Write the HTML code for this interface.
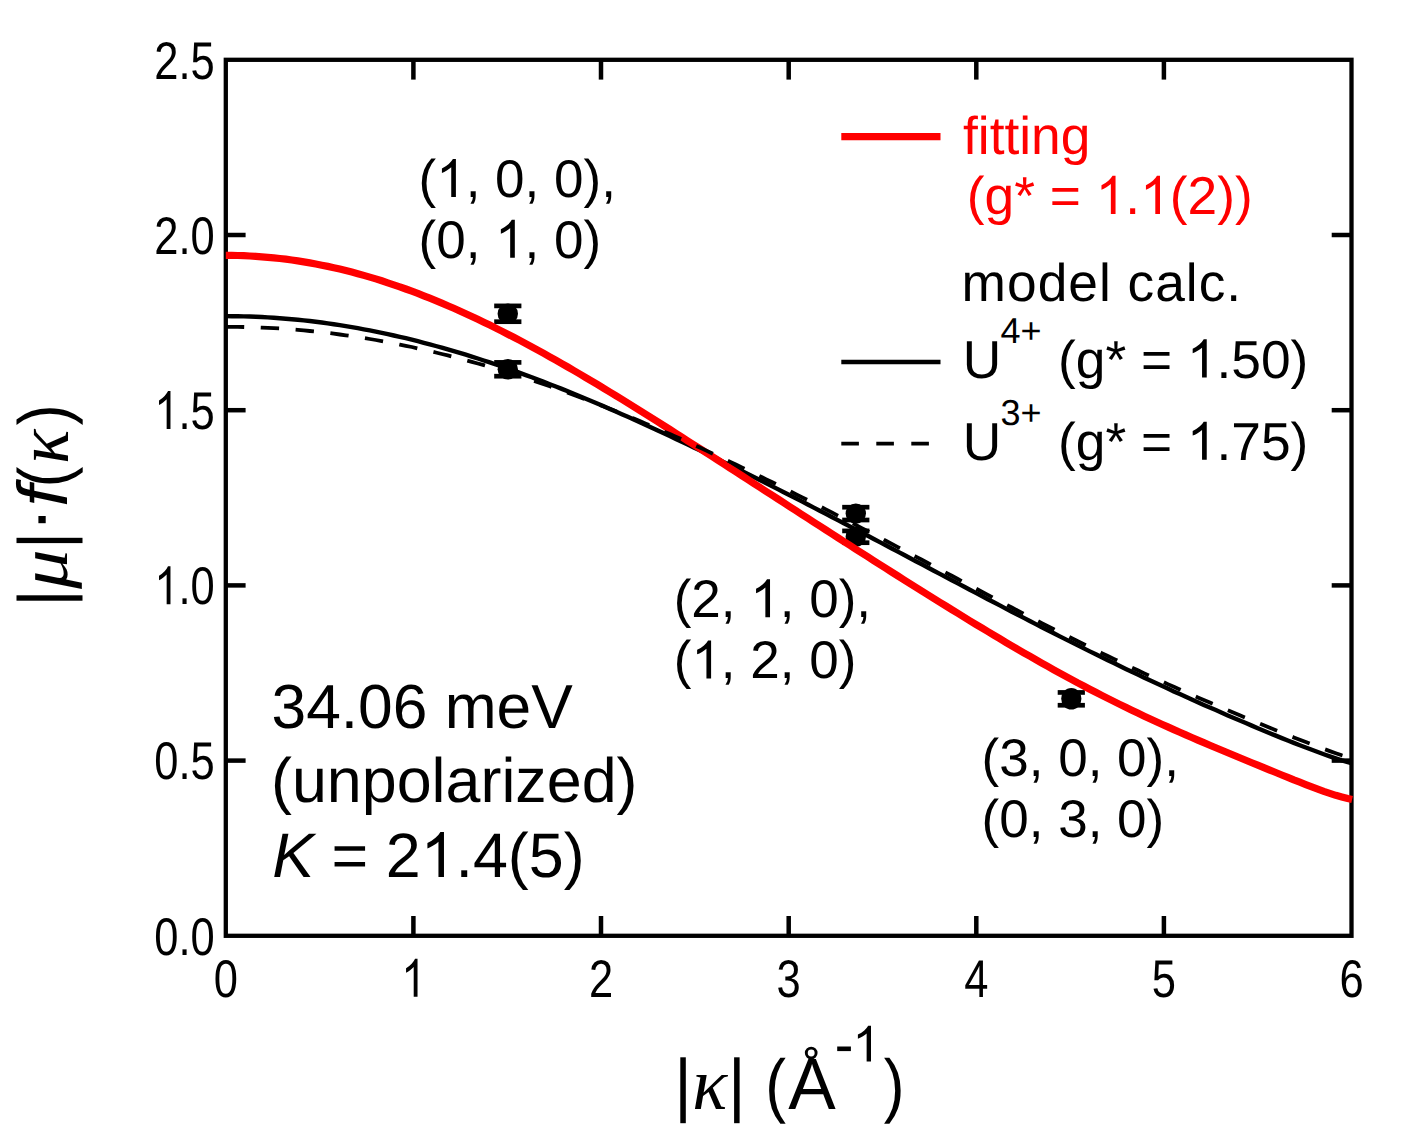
<!DOCTYPE html>
<html><head><meta charset="utf-8"><title>chart</title>
<style>html,body{margin:0;padding:0;background:#fff;}svg{display:block;}text{font-family:"Liberation Sans",sans-serif;text-rendering:geometricPrecision;}.s{font-family:"Liberation Serif",serif;font-style:italic;}.i{font-style:italic;}</style></head><body>
<svg width="1412" height="1130" viewBox="0 0 1412 1130">
<rect x="0" y="0" width="1412" height="1130" fill="#fff"/>
<rect x="225.8" y="59.8" width="1125.7" height="876.0" fill="none" stroke="#000" stroke-width="4.3"/>
<g stroke="#000" stroke-width="4.5">
<line x1="413.4" y1="935.8" x2="413.4" y2="916.0"/>
<line x1="413.4" y1="59.8" x2="413.4" y2="79.6"/>
<line x1="601.0" y1="935.8" x2="601.0" y2="916.0"/>
<line x1="601.0" y1="59.8" x2="601.0" y2="79.6"/>
<line x1="788.7" y1="935.8" x2="788.7" y2="916.0"/>
<line x1="788.7" y1="59.8" x2="788.7" y2="79.6"/>
<line x1="976.3" y1="935.8" x2="976.3" y2="916.0"/>
<line x1="976.3" y1="59.8" x2="976.3" y2="79.6"/>
<line x1="1163.9" y1="935.8" x2="1163.9" y2="916.0"/>
<line x1="1163.9" y1="59.8" x2="1163.9" y2="79.6"/>
<line x1="225.8" y1="760.6" x2="245.6" y2="760.6"/>
<line x1="1351.5" y1="760.6" x2="1331.7" y2="760.6"/>
<line x1="225.8" y1="585.4" x2="245.6" y2="585.4"/>
<line x1="1351.5" y1="585.4" x2="1331.7" y2="585.4"/>
<line x1="225.8" y1="410.2" x2="245.6" y2="410.2"/>
<line x1="1351.5" y1="410.2" x2="1331.7" y2="410.2"/>
<line x1="225.8" y1="235.0" x2="245.6" y2="235.0"/>
<line x1="1351.5" y1="235.0" x2="1331.7" y2="235.0"/>
</g>
<g fill="#000" stroke="none">
<ellipse cx="507.8" cy="313.80" rx="10.20" ry="10.20"/>
<rect x="494.2" y="303.55" width="27.2" height="4.7"/>
<rect x="494.2" y="319.35" width="27.2" height="4.7"/>
<ellipse cx="507.8" cy="369.30" rx="10.20" ry="10.20"/>
<rect x="494.2" y="360.05" width="27.2" height="4.7"/>
<rect x="494.2" y="373.85" width="27.2" height="4.7"/>
<ellipse cx="855.8" cy="513.60" rx="10.20" ry="10.20"/>
<rect x="842.2" y="504.85" width="27.2" height="4.7"/>
<rect x="842.2" y="517.65" width="27.2" height="4.7"/>
<ellipse cx="855.8" cy="536.80" rx="10.20" ry="10.20"/>
<rect x="842.2" y="528.55" width="27.2" height="4.7"/>
<rect x="842.2" y="540.35" width="27.2" height="4.7"/>
<ellipse cx="1071.3" cy="698.85" rx="10.10" ry="10.75"/>
<rect x="1057.7" y="690.10" width="27.2" height="4.7"/>
<rect x="1057.7" y="702.90" width="27.2" height="4.7"/>
</g>
<g fill="none" stroke-linejoin="round">
<path d="M225.8 316.1L231.8 316.2L237.8 316.2L243.8 316.4L249.8 316.5L255.8 316.8L261.8 317.0L267.8 317.4L273.8 317.8L279.8 318.2L285.8 318.7L291.8 319.2L297.8 319.7L303.8 320.4L309.8 321.0L315.8 321.8L321.8 322.5L327.8 323.4L333.8 324.2L339.8 325.1L345.8 326.1L351.8 327.1L357.8 328.2L363.8 329.3L369.8 330.4L375.8 331.6L381.8 332.8L387.8 334.1L393.8 335.5L399.8 336.8L405.8 338.2L411.8 339.7L417.8 341.2L423.8 342.8L429.8 344.3L435.8 346.0L441.8 347.6L447.8 349.4L453.8 351.1L459.8 352.9L465.8 354.7L471.8 356.6L477.8 358.5L483.8 360.5L489.8 362.4L495.8 364.5L501.8 366.5L507.8 368.6L513.8 370.7L519.8 372.9L525.8 375.1L531.8 377.3L537.8 379.6L543.8 381.9L549.8 384.2L555.8 386.5L561.8 388.9L567.8 391.3L573.8 393.7L579.8 396.2L585.8 398.7L591.8 401.2L597.8 403.8L603.8 406.3L609.8 408.9L615.8 411.5L621.8 414.2L627.8 416.8L633.8 419.5L639.8 422.2L645.8 425.0L651.8 427.7L657.8 430.5L663.8 433.3L669.8 436.1L675.8 438.9L681.8 441.7L687.8 444.6L693.8 447.5L699.8 450.3L705.8 453.3L711.8 456.2L717.8 459.1L723.8 462.1L729.8 465.0L735.8 468.0L741.8 471.0L747.8 474.0L753.8 477.0L759.8 480.0L765.8 483.0L771.8 486.1L777.8 489.1L783.8 492.2L789.8 495.3L795.8 498.3L801.8 501.4L807.8 504.5L813.8 507.6L819.8 510.7L825.8 513.8L831.8 517.0L837.8 520.1L843.8 523.2L849.8 526.4L855.8 529.5L861.8 532.7L867.8 535.8L873.8 539.0L879.8 542.1L885.8 545.3L891.8 548.5L897.8 551.6L903.8 554.8L909.8 558.0L915.8 561.2L921.8 564.3L927.8 567.5L933.8 570.7L939.8 573.9L945.8 577.0L951.8 580.2L957.8 583.4L963.8 586.5L969.8 589.7L975.8 592.9L981.8 596.0L987.8 599.2L993.8 602.3L999.8 605.4L1005.8 608.6L1011.8 611.7L1017.8 614.8L1023.8 617.9L1029.8 621.0L1035.8 624.1L1041.8 627.2L1047.8 630.3L1053.8 633.3L1059.8 636.4L1065.8 639.4L1071.8 642.4L1077.8 645.4L1083.8 648.4L1089.8 651.4L1095.8 654.3L1101.8 657.3L1107.8 660.2L1113.8 663.1L1119.8 666.0L1125.8 668.9L1131.8 671.8L1137.8 674.6L1143.8 677.5L1149.8 680.3L1155.8 683.1L1161.8 685.8L1167.8 688.6L1173.8 691.4L1179.8 694.1L1185.8 696.8L1191.8 699.5L1197.8 702.2L1203.8 704.9L1209.8 707.5L1215.8 710.1L1221.8 712.8L1227.8 715.4L1233.8 718.0L1239.8 720.5L1245.8 723.1L1251.8 725.6L1257.8 728.2L1263.8 730.7L1269.8 733.2L1275.8 735.6L1281.8 738.1L1287.8 740.5L1293.8 742.9L1299.8 745.2L1305.8 747.5L1311.8 749.8L1317.8 752.0L1323.8 754.2L1329.8 756.3L1335.8 758.3L1341.8 760.3L1347.8 762.1L1351.5 763.2" stroke="#000" stroke-width="4.4"/>
<path d="M225.8 255.4L231.8 255.4L237.8 255.5L243.8 255.7L249.8 256.0L255.8 256.3L261.8 256.8L267.8 257.3L273.8 257.8L279.8 258.5L285.8 259.2L291.8 260.0L297.8 260.9L303.8 261.9L309.8 262.9L315.8 264.0L321.8 265.2L327.8 266.4L333.8 267.7L339.8 269.1L345.8 270.6L351.8 272.1L357.8 273.7L363.8 275.4L369.8 277.1L375.8 278.9L381.8 280.8L387.8 282.8L393.8 284.8L399.8 286.8L405.8 289.0L411.8 291.2L417.8 293.4L423.8 295.8L429.8 298.2L435.8 300.6L441.8 303.1L447.8 305.7L453.8 308.3L459.8 311.0L465.8 313.7L471.8 316.5L477.8 319.3L483.8 322.2L489.8 325.1L495.8 328.1L501.8 331.1L507.8 334.2L513.8 337.3L519.8 340.4L525.8 343.6L531.8 346.9L537.8 350.1L543.8 353.4L549.8 356.8L555.8 360.2L561.8 363.6L567.8 367.0L573.8 370.5L579.8 374.0L585.8 377.6L591.8 381.1L597.8 384.7L603.8 388.3L609.8 392.0L615.8 395.6L621.8 399.3L627.8 403.0L633.8 406.7L639.8 410.5L645.8 414.2L651.8 418.0L657.8 421.8L663.8 425.6L669.8 429.4L675.8 433.2L681.8 437.0L687.8 440.9L693.8 444.7L699.8 448.6L705.8 452.4L711.8 456.3L717.8 460.1L723.8 464.0L729.8 467.9L735.8 471.8L741.8 475.6L747.8 479.5L753.8 483.4L759.8 487.3L765.8 491.2L771.8 495.1L777.8 498.9L783.8 502.8L789.8 506.7L795.8 510.6L801.8 514.5L807.8 518.3L813.8 522.2L819.8 526.1L825.8 529.9L831.8 533.8L837.8 537.6L843.8 541.5L849.8 545.3L855.8 549.2L861.8 553.0L867.8 556.8L873.8 560.7L879.8 564.5L885.8 568.3L891.8 572.1L897.8 575.9L903.8 579.7L909.8 583.5L915.8 587.2L921.8 591.0L927.8 594.7L933.8 598.5L939.8 602.2L945.8 605.9L951.8 609.6L957.8 613.3L963.8 617.0L969.8 620.7L975.8 624.3L981.8 627.9L987.8 631.5L993.8 635.1L999.8 638.7L1005.8 642.3L1011.8 645.8L1017.8 649.3L1023.8 652.8L1029.8 656.2L1035.8 659.7L1041.8 663.1L1047.8 666.4L1053.8 669.8L1059.8 673.1L1065.8 676.4L1071.8 679.6L1077.8 682.9L1083.8 686.0L1089.8 689.2L1095.8 692.3L1101.8 695.4L1107.8 698.4L1113.8 701.4L1119.8 704.4L1125.8 707.3L1131.8 710.2L1137.8 713.1L1143.8 715.9L1149.8 718.7L1155.8 721.5L1161.8 724.2L1167.8 726.9L1173.8 729.6L1179.8 732.3L1185.8 734.9L1191.8 737.5L1197.8 740.1L1203.8 742.6L1209.8 745.2L1215.8 747.7L1221.8 750.2L1227.8 752.7L1233.8 755.2L1239.8 757.7L1245.8 760.2L1251.8 762.7L1257.8 765.1L1263.8 767.6L1269.8 770.1L1275.8 772.5L1281.8 775.0L1287.8 777.4L1293.8 779.9L1299.8 782.2L1305.8 784.6L1311.8 786.9L1317.8 789.1L1323.8 791.3L1329.8 793.3L1335.8 795.3L1341.8 797.0L1347.8 798.6L1352.1 799.6" stroke="#f00" stroke-width="7.2"/>
<path d="M225.8 326.9L231.8 326.9L237.8 326.9L243.8 327.0L249.8 327.2L255.8 327.3L261.8 327.6L267.8 327.8L273.8 328.2L279.8 328.5L285.8 328.9L291.8 329.4L297.8 329.9L303.8 330.4L309.8 331.0L315.8 331.6L321.8 332.2L327.8 332.9L333.8 333.7L339.8 334.5L345.8 335.3L351.8 336.2L357.8 337.1L363.8 338.0L369.8 339.0L375.8 340.0L381.8 341.1L387.8 342.2L393.8 343.4L399.8 344.6L405.8 345.8L411.8 347.0L417.8 348.4L423.8 349.7L429.8 351.1L435.8 352.5L441.8 354.0L447.8 355.4L453.8 357.0L459.8 358.5L465.8 360.2L471.8 361.8L477.8 363.5L483.8 365.2L489.8 366.9L495.8 368.7L501.8 370.5L507.8 372.4L513.8 374.3L519.8 376.2L525.8 378.2L531.8 380.1L537.8 382.2L543.8 384.2L549.8 386.3L555.8 388.4L561.8 390.6L567.8 392.7L573.8 395.0L579.8 397.2L585.8 399.5L591.8 401.8L597.8 404.1L603.8 406.4L609.8 408.8L615.8 411.2L621.8 413.7L627.8 416.1L633.8 418.6L639.8 421.1L645.8 423.7L651.8 426.2L657.8 428.8L663.8 431.5L669.8 434.1L675.8 436.7L681.8 439.4L687.8 442.1L693.8 444.9L699.8 447.6L705.8 450.4L711.8 453.2L717.8 456.0L723.8 458.8L729.8 461.6L735.8 464.5L741.8 467.4L747.8 470.3L753.8 473.2L759.8 476.1L765.8 479.1L771.8 482.0L777.8 485.0L783.8 488.0L789.8 491.0L795.8 494.1L801.8 497.1L807.8 500.1L813.8 503.2L819.8 506.3L825.8 509.4L831.8 512.4L837.8 515.6L843.8 518.7L849.8 521.8L855.8 524.9L861.8 528.1L867.8 531.2L873.8 534.4L879.8 537.5L885.8 540.7L891.8 543.9L897.8 547.1L903.8 550.2L909.8 553.4L915.8 556.6L921.8 559.8L927.8 563.0L933.8 566.2L939.8 569.4L945.8 572.6L951.8 575.8L957.8 579.0L963.8 582.2L969.8 585.4L975.8 588.5L981.8 591.7L987.8 594.9L993.8 598.1L999.8 601.2L1005.8 604.4L1011.8 607.5L1017.8 610.7L1023.8 613.8L1029.8 616.9L1035.8 620.0L1041.8 623.1L1047.8 626.2L1053.8 629.2L1059.8 632.3L1065.8 635.3L1071.8 638.3L1077.8 641.3L1083.8 644.3L1089.8 647.3L1095.8 650.2L1101.8 653.1L1107.8 656.0L1113.8 658.9L1119.8 661.8L1125.8 664.7L1131.8 667.5L1137.8 670.3L1143.8 673.1L1149.8 675.9L1155.8 678.6L1161.8 681.3L1167.8 684.1L1173.8 686.8L1179.8 689.4L1185.8 692.1L1191.8 694.7L1197.8 697.4L1203.8 700.0L1209.8 702.6L1215.8 705.1L1221.8 707.7L1227.8 710.3L1233.8 712.8L1239.8 715.3L1245.8 717.8L1251.8 720.3L1257.8 722.8L1263.8 725.3L1269.8 727.7L1275.8 730.2L1281.8 732.6L1287.8 735.0L1293.8 737.4L1299.8 739.8L1305.8 742.1L1311.8 744.4L1317.8 746.7L1323.8 748.9L1329.8 751.1L1335.8 753.2L1341.8 755.3L1342.5 755.5" stroke="#000" stroke-width="3.8" stroke-dasharray="18.4 16.54"/>
</g>
<g transform="translate(214.70 954.60) scale(0.820 1)" fill="#000">
<text x="-73.68 -44.20 -29.48" y="0" font-size="53">0.0</text>
</g>
<g transform="translate(214.70 779.40) scale(0.820 1)" fill="#000">
<text x="-73.68 -44.20 -29.48" y="0" font-size="53">0.5</text>
</g>
<g transform="translate(214.70 604.20) scale(0.820 1)" fill="#000">
<path transform="translate(-73.68 0) scale(0.02588 -0.02588)" d="M763 0H583V1147Q518 1085 412.5 1023Q307 961 223 930V1104Q374 1175 487 1276Q600 1377 647 1466H763Z"/>
<text x="-44.20 -29.48" y="0" font-size="53">.0</text>
</g>
<g transform="translate(214.70 429.00) scale(0.820 1)" fill="#000">
<path transform="translate(-73.68 0) scale(0.02588 -0.02588)" d="M763 0H583V1147Q518 1085 412.5 1023Q307 961 223 930V1104Q374 1175 487 1276Q600 1377 647 1466H763Z"/>
<text x="-44.20 -29.48" y="0" font-size="53">.5</text>
</g>
<g transform="translate(214.70 253.80) scale(0.820 1)" fill="#000">
<text x="-73.68 -44.20 -29.48" y="0" font-size="53">2.0</text>
</g>
<g transform="translate(214.70 78.60) scale(0.820 1)" fill="#000">
<text x="-73.68 -44.20 -29.48" y="0" font-size="53">2.5</text>
</g>
<g transform="translate(225.80 996.70) scale(0.820 1)" fill="#000">
<text x="-14.74" y="0" font-size="53">0</text>
</g>
<g transform="translate(413.42 996.70) scale(0.820 1)" fill="#000">
<path transform="translate(-14.74 0) scale(0.02588 -0.02588)" d="M763 0H583V1147Q518 1085 412.5 1023Q307 961 223 930V1104Q374 1175 487 1276Q600 1377 647 1466H763Z"/>
</g>
<g transform="translate(601.03 996.70) scale(0.820 1)" fill="#000">
<text x="-14.74" y="0" font-size="53">2</text>
</g>
<g transform="translate(788.65 996.70) scale(0.820 1)" fill="#000">
<text x="-14.74" y="0" font-size="53">3</text>
</g>
<g transform="translate(976.27 996.70) scale(0.820 1)" fill="#000">
<text x="-14.74" y="0" font-size="53">4</text>
</g>
<g transform="translate(1163.88 996.70) scale(0.820 1)" fill="#000">
<text x="-14.74" y="0" font-size="53">5</text>
</g>
<g transform="translate(1351.50 996.70) scale(0.820 1)" fill="#000">
<text x="-14.74" y="0" font-size="53">6</text>
</g>
<g transform="translate(418.50 197.00) scale(1.000 1)" fill="#000">
<path transform="translate(17.65 0) scale(0.02588 -0.02588)" d="M763 0H583V1147Q518 1085 412.5 1023Q307 961 223 930V1104Q374 1175 487 1276Q600 1377 647 1466H763Z"/>
<text x="0.00 47.13 76.58 106.05 135.50 164.98 182.63" y="0" font-size="53">(,0,0),</text>
</g>
<g transform="translate(418.50 257.80) scale(1.000 1)" fill="#000">
<path transform="translate(76.58 0) scale(0.02588 -0.02588)" d="M763 0H583V1147Q518 1085 412.5 1023Q307 961 223 930V1104Q374 1175 487 1276Q600 1377 647 1466H763Z"/>
<text x="0.00 17.65 47.13 106.05 135.50 164.98" y="0" font-size="53">(0,,0)</text>
</g>
<g transform="translate(673.70 617.30) scale(1.000 1)" fill="#000">
<path transform="translate(76.58 0) scale(0.02588 -0.02588)" d="M763 0H583V1147Q518 1085 412.5 1023Q307 961 223 930V1104Q374 1175 487 1276Q600 1377 647 1466H763Z"/>
<text x="0.00 17.65 47.13 106.05 135.50 164.98 182.63" y="0" font-size="53">(2,,0),</text>
</g>
<g transform="translate(673.70 678.40) scale(1.000 1)" fill="#000">
<path transform="translate(17.65 0) scale(0.02588 -0.02588)" d="M763 0H583V1147Q518 1085 412.5 1023Q307 961 223 930V1104Q374 1175 487 1276Q600 1377 647 1466H763Z"/>
<text x="0.00 47.13 76.58 106.05 135.50 164.98" y="0" font-size="53">(,2,0)</text>
</g>
<g transform="translate(981.60 775.90) scale(1.000 1)" fill="#000">
<text x="0.00 17.65 47.13 76.58 106.05 135.50 164.98 182.63" y="0" font-size="53">(3,0,0),</text>
</g>
<g transform="translate(981.60 836.60) scale(1.000 1)" fill="#000">
<text x="0.00 17.65 47.13 76.58 106.05 135.50 164.98" y="0" font-size="53">(0,3,0)</text>
</g>
<g transform="translate(271.50 728.30) scale(1.000 1)" fill="#000">
<text x="0.00 34.65 69.30 86.61 121.25 173.21 225.11 259.76" y="0" font-size="62.3">34.06meV</text>
</g>
<g transform="translate(271.00 802.40) scale(1.000 1)" fill="#000">
<text x="0.00 20.91 55.84 90.77 125.69 160.62 174.57 209.50 230.41 244.36 275.76 310.69 345.61" y="0" font-size="62.8">(unpolarized)</text>
</g>
<g transform="translate(272.20 876.90) scale(1.000 1)" fill="#000">
<text class="i" x="0.00" y="0" font-size="62.8">K</text>
<path transform="translate(148.38 0) scale(0.03066 -0.03066)" d="M763 0H583V1147Q518 1085 412.5 1023Q307 961 223 930V1104Q374 1175 487 1276Q600 1377 647 1466H763Z"/>
<text x="59.33 113.46 183.31 200.76 235.68 256.60 291.52" y="0" font-size="62.8">=2.4(5)</text>
</g>
<line x1="841.3" y1="136.7" x2="940.5" y2="136.7" stroke="#f00" stroke-width="7.2"/>
<line x1="841.3" y1="362" x2="940.5" y2="362" stroke="#000" stroke-width="4.4"/>
<line x1="841.3" y1="443.6" x2="940.5" y2="443.6" stroke="#000" stroke-width="3.8" stroke-dasharray="17.6 17.4"/>
<g transform="translate(963.00 153.70) scale(1.000 1)" fill="#f00">
<text x="0.00 14.81 26.65 41.46 56.27 68.11 97.75" y="0" font-size="53.3">fitting</text>
</g>
<g transform="translate(966.80 213.90) scale(1.000 1)" fill="#f00">
<path transform="translate(128.88 0) scale(0.02603 -0.02603)" d="M763 0H583V1147Q518 1085 412.5 1023Q307 961 223 930V1104Q374 1175 487 1276Q600 1377 647 1466H763Z"/>
<path transform="translate(173.33 0) scale(0.02603 -0.02603)" d="M763 0H583V1147Q518 1085 412.5 1023Q307 961 223 930V1104Q374 1175 487 1276Q600 1377 647 1466H763Z"/>
<text x="0.00 17.75 47.39 82.94 158.52 202.97 220.72 250.36 268.11" y="0" font-size="53.3">(g*=.(2))</text>
</g>
<g transform="translate(961.60 301.40) scale(1.000 1)" fill="#000">
<text x="0.00 45.40 76.04 106.69 137.33 165.98 193.63 224.27 237.11 264.76" y="0" font-size="53.3">modelcalc.</text>
</g>
<g transform="translate(962.70 377.50) scale(1.000 1)" fill="#000">
<text x="0.00" y="0" font-size="53.3">U</text>
</g>
<g transform="translate(1000.50 342.50) scale(1.000 1)" fill="#000">
<text x="0.00 20.02" y="0" font-size="36">4+</text>
</g>
<g transform="translate(1058.00 377.50) scale(1.000 1)" fill="#000">
<path transform="translate(128.88 0) scale(0.02603 -0.02603)" d="M763 0H583V1147Q518 1085 412.5 1023Q307 961 223 930V1104Q374 1175 487 1276Q600 1377 647 1466H763Z"/>
<text x="0.00 17.75 47.39 82.94 158.52 173.33 202.97 232.61" y="0" font-size="53.3">(g*=.50)</text>
</g>
<g transform="translate(962.70 459.80) scale(1.000 1)" fill="#000">
<text x="0.00" y="0" font-size="53.3">U</text>
</g>
<g transform="translate(1000.50 425.00) scale(1.000 1)" fill="#000">
<text x="0.00 20.02" y="0" font-size="36">3+</text>
</g>
<g transform="translate(1058.00 459.80) scale(1.000 1)" fill="#000">
<path transform="translate(128.88 0) scale(0.02603 -0.02603)" d="M763 0H583V1147Q518 1085 412.5 1023Q307 961 223 930V1104Q374 1175 487 1276Q600 1377 647 1466H763Z"/>
<text x="0.00 17.75 47.39 82.94 158.52 173.33 202.97 232.61" y="0" font-size="53.3">(g*=.75)</text>
</g>
<g fill="#000">
<rect x="680.3" y="1057.3" width="5.5" height="65.9"/>
<rect x="734.1" y="1057.3" width="5.5" height="65.9"/>
<text class="s" transform="matrix(0.7291 0 0 0.7429 692.20 1109.00)" font-size="100">κ</text>
<text transform="matrix(0.6226 0 0 0.7082 765.14 1108.64)" font-size="100">(</text>
<text transform="matrix(0.7119 0 0 0.7282 788.16 1108.50)" font-size="100">A</text>
<circle cx="811.2" cy="1053.0" r="4.9" fill="none" stroke="#000" stroke-width="2.9"/>
<rect x="837.2" y="1046.5" width="13.7" height="4.6"/>
<path transform="translate(852.48 1061.40) scale(0.02427 -0.02427)" d="M763 0H583V1147Q518 1085 412.5 1023Q307 961 223 930V1104Q374 1175 487 1276Q600 1377 647 1466H763Z"/>
<text transform="matrix(0.6226 0 0 0.7082 883.83 1108.64)" font-size="100">)</text>
</g>
<g transform="translate(67.7 600) rotate(-90)" fill="#000">
<rect x="-0.7" y="-51.2" width="5.4" height="66"/>
<text class="s" transform="matrix(0.7915 0 0 0.6939 11.08 -1.15)" font-size="100">μ</text>
<rect x="56.9" y="-51.2" width="5.3" height="66"/>
<rect x="76.8" y="-29.3" width="7.2" height="7.3"/>
<text class="i" transform="matrix(0.7606 0 0 0.7048 93.31 -0.40)" font-size="100">f</text>
<text transform="matrix(0.6264 0 0 0.7114 112.42 0.07)" font-size="100">(</text>
<text class="s" transform="matrix(0.7181 0 0 0.7429 136.04 0.30)" font-size="100">κ</text>
<text transform="matrix(0.6226 0 0 0.7114 174.83 0.07)" font-size="100">)</text>
</g>
</svg></body></html>
